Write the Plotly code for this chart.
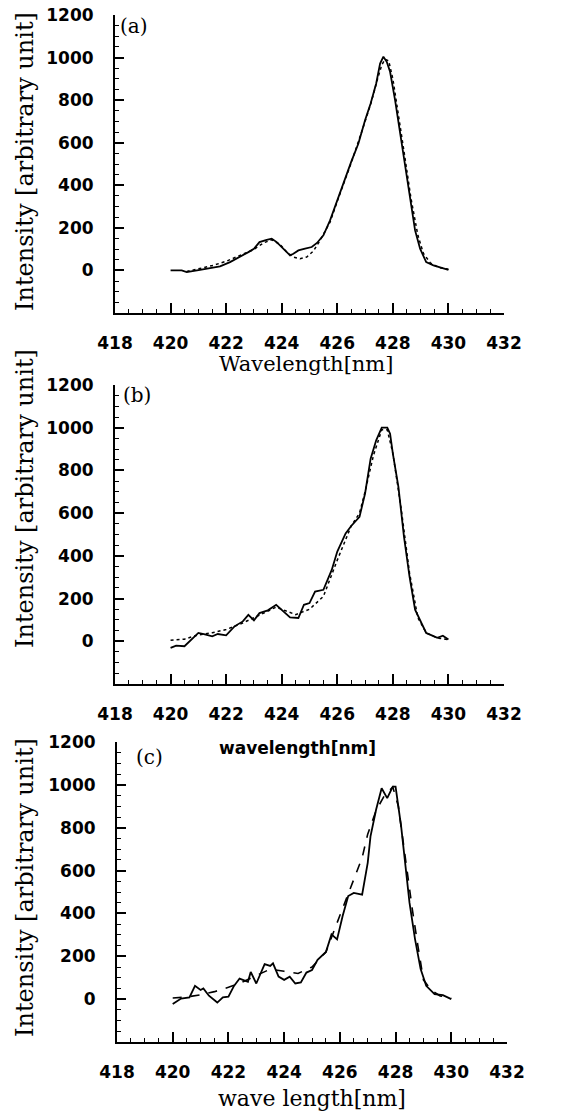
import plotly.graph_objects as go

# ---------------- data ----------------
# Panel (a)
wl_a_solid = [420.0, 420.4, 420.58, 420.76, 421.06, 421.42, 421.78, 422.14, 422.5, 422.8,
              423.0, 423.2, 423.46, 423.64, 423.82, 424.06, 424.3, 424.42, 424.6, 424.84,
              425.08, 425.27, 425.5, 425.74, 426.0, 426.2, 426.5, 426.76, 426.9, 427.0,
              427.2, 427.4, 427.54, 427.66, 427.78, 427.9, 428.08, 428.26, 428.44, 428.62,
              428.8, 428.98, 429.2, 429.46, 429.7, 430.0]
int_a_solid = [0, 0, -8, -3, 3, 11, 19, 39, 63, 86,
               102, 133, 144, 149, 133, 102, 71, 78, 94, 102,
               110, 129, 165, 235, 330, 408, 510, 596, 667, 706,
               784, 878, 972, 1004, 980, 933, 800, 643, 486, 329,
               188, 102, 39, 24, 16, 3]

wl_a_dot = [420.58, 421.06, 421.54, 422.02, 422.5, 422.98, 423.34, 423.64, 423.94, 424.18,
            424.42, 424.66, 424.9, 425.14, 425.38, 425.74, 426.0, 426.5, 426.9, 427.2,
            427.45, 427.6, 427.72, 427.85, 428.0, 428.2, 428.4, 428.65, 428.9, 429.1,
            429.35, 429.65, 430.0]
int_a_dot = [-5, 8, 24, 44, 71, 97, 129, 144, 122, 86,
             63, 55, 63, 91, 141, 227, 325, 505, 660, 780,
             900, 965, 992, 985, 900, 740, 560, 340, 165, 80,
             35, 14, 5]

# Panel (b)
wl_b_solid = [420.0, 420.2, 420.5, 420.7, 421.0, 421.2, 421.5, 421.7, 422.0, 422.3,
              422.6, 422.8, 423.0, 423.2, 423.5, 423.8, 424.0, 424.3, 424.6, 424.8,
              425.0, 425.2, 425.5, 425.8, 426.0, 426.3, 426.5, 426.8, 427.0, 427.2,
              427.4, 427.6, 427.8, 427.9, 428.0, 428.2, 428.4, 428.6, 428.8, 429.0,
              429.2, 429.4, 429.6, 429.8, 430.0]
int_b_solid = [-31, -20, -23, 0, 39, 34, 23, 34, 28, 70,
               93, 124, 98, 132, 145, 171, 148, 112, 109, 171,
               179, 233, 241, 334, 420, 505, 540, 583, 692, 855,
               941, 1000, 1000, 972, 879, 723, 490, 303, 148, 93,
               39, 28, 16, 26, 8]

wl_b_dot = [420.0, 420.5, 421.0, 421.5, 422.0, 422.5, 423.0, 423.5, 423.8, 424.2,
            424.5, 425.0, 425.5, 426.0, 426.5, 426.8, 427.0, 427.3, 427.6, 427.8,
            428.0, 428.3, 428.6, 428.9, 429.2, 429.6, 430.0]
int_b_dot = [5, 10, 30, 40, 55, 80, 110, 140, 160, 140,
             125, 150, 210, 380, 540, 600, 700, 870, 990, 990,
             880, 620, 320, 110, 40, 15, 8]

# Panel (c)
wl_c_solid = [420.0, 420.3, 420.6, 420.8, 421.0, 421.1, 421.3, 421.6, 421.8, 422.0,
              422.2, 422.4, 422.7, 422.8, 423.0, 423.3, 423.5, 423.6, 423.8, 424.0,
              424.2, 424.4, 424.6, 424.8, 425.0, 425.2, 425.5, 425.7, 425.9, 426.1,
              426.3, 426.5, 426.8, 427.0, 427.1, 427.3, 427.5, 427.7, 427.9, 428.0,
              428.2, 428.4, 428.5, 428.7, 428.9, 429.1, 429.4, 429.7, 430.0]
int_c_solid = [-23, 3, 8, 62, 43, 50, 16, -16, 8, 12,
               62, 96, 81, 127, 73, 163, 155, 167, 105, 90,
               105, 73, 78, 124, 136, 183, 220, 302, 279, 388,
               481, 496, 488, 636, 760, 884, 984, 938, 992, 992,
               806, 558, 450, 279, 140, 62, 23, 19, 0]

wl_c_dash = [420.0, 420.5, 421.0, 421.5, 422.0, 422.5, 423.0, 423.5, 424.0, 424.5,
             425.0, 425.5, 426.0, 426.5, 426.8, 427.0, 427.3, 427.6, 427.9, 428.1,
             428.3, 428.6, 428.8, 429.0, 429.3, 429.6, 430.0]
int_c_dash = [5, 10, 20, 35, 55, 80, 110, 140, 130, 120,
              150, 220, 390, 560, 660, 770, 880, 950, 990, 900,
              700, 420, 250, 90, 40, 15, 5]

x_ticks = [418, 420, 422, 424, 426, 428, 430, 432]
y_ticks = [0, 200, 400, 600, 800, 1000, 1200]

y_title = "Intensity [arbitrary unit]"
x_title_a = "Wavelength[nm]"
x_title_b = "wavelength[nm]"
x_title_c = "wave length[nm]"
panel_labels = ["(a)", "(b)", "(c)"]

# ---------------- figure ----------------
W, H = 567, 1113
SERIF = "DejaVu Serif"
SANS = "DejaVu Sans"


def px_x(p):
    return p / W


def px_y(p):
    return 1 - p / H


fig = go.Figure()

series = [
    (wl_a_solid, int_a_solid, "solid", 1.8, "x", "y"),
    (wl_a_dot, int_a_dot, "dot", 1.5, "x", "y"),
    (wl_b_solid, int_b_solid, "solid", 1.8, "x2", "y2"),
    (wl_b_dot, int_b_dot, "dot", 1.5, "x2", "y2"),
    (wl_c_solid, int_c_solid, "solid", 1.8, "x3", "y3"),
    (wl_c_dash, int_c_dash, "dash", 1.6, "x3", "y3"),
]
for xs, ys, dash, w, xa, ya in series:
    fig.add_trace(go.Scatter(x=xs, y=ys, mode="lines", xaxis=xa, yaxis=ya,
                             line=dict(color="black", width=w, dash=dash),
                             showlegend=False, hoverinfo="skip"))

# pixel geometry of the three panels: (left, right, top, bottom)
panels = [(115, 504, 15, 313), (115, 504, 385, 684), (117, 507, 742, 1042)]

tickfont = dict(family=SANS, size=17, color="black", weight="bold")

for i, (l, r, t, b) in enumerate(panels):
    sfx = "" if i == 0 else str(i + 1)
    fig.layout["xaxis" + sfx] = dict(
        domain=[px_x(l), px_x(r)], anchor="y" + sfx, range=[418, 432],
        tickmode="array", tickvals=x_ticks, ticks="inside", ticklen=10,
        tickwidth=1.5, tickcolor="black", showline=True, linewidth=2,
        linecolor="black", showgrid=False, zeroline=False, tickfont=tickfont,
        ticklabelstandoff=14, automargin=False,
        minor=dict(tickmode="linear", tick0=418, dtick=0.5, ticks="inside",
                   ticklen=4, tickwidth=1.2, tickcolor="black", showgrid=False),
    )
    fig.layout["yaxis" + sfx] = dict(
        domain=[px_y(b), px_y(t)], anchor="x" + sfx, range=[-200, 1200],
        tickmode="array", tickvals=y_ticks, ticks="inside", ticklen=9,
        tickwidth=1.5, tickcolor="black", showline=True, linewidth=2,
        linecolor="black", showgrid=False, zeroline=False, tickfont=tickfont,
        ticklabelstandoff=16, automargin=False,
        minor=dict(tickmode="linear", tick0=0, dtick=50, ticks="inside",
                   ticklen=4, tickwidth=1.2, tickcolor="black", showgrid=False),
    )

annotations = []
# y titles
for yc in [162, 499, 888]:
    annotations.append(dict(text=y_title, x=px_x(25), y=px_y(yc), xref="paper", yref="paper",
                            textangle=-90, showarrow=False, xanchor="center", yanchor="middle",
                            font=dict(family=SERIF, size=24, color="black")))
# x titles
annotations.append(dict(text=x_title_a, x=px_x(306), y=px_y(364), xref="paper", yref="paper",
                        showarrow=False, xanchor="center", yanchor="middle",
                        font=dict(family=SERIF, size=21, color="black")))
annotations.append(dict(text=x_title_b, x=px_x(297), y=px_y(748), xref="paper", yref="paper",
                        showarrow=False, xanchor="center", yanchor="middle",
                        font=dict(family=SANS, size=17, color="black", weight="bold")))
annotations.append(dict(text=x_title_c, x=px_x(312), y=px_y(1098), xref="paper", yref="paper",
                        showarrow=False, xanchor="center", yanchor="middle",
                        font=dict(family=SERIF, size=22, color="black")))
# panel labels
for (xc, yc), lab in zip([(134, 26), (137, 395), (149, 757)], panel_labels):
    annotations.append(dict(text=lab, x=px_x(xc), y=px_y(yc), xref="paper", yref="paper",
                            showarrow=False, xanchor="center", yanchor="middle",
                            font=dict(family=SERIF, size=20, color="black")))

fig.update_layout(
    width=W, height=H, margin=dict(l=0, r=0, t=0, b=0),
    paper_bgcolor="white", plot_bgcolor="white",
    annotations=annotations, showlegend=False,
)

fig.write_html("out.html")
